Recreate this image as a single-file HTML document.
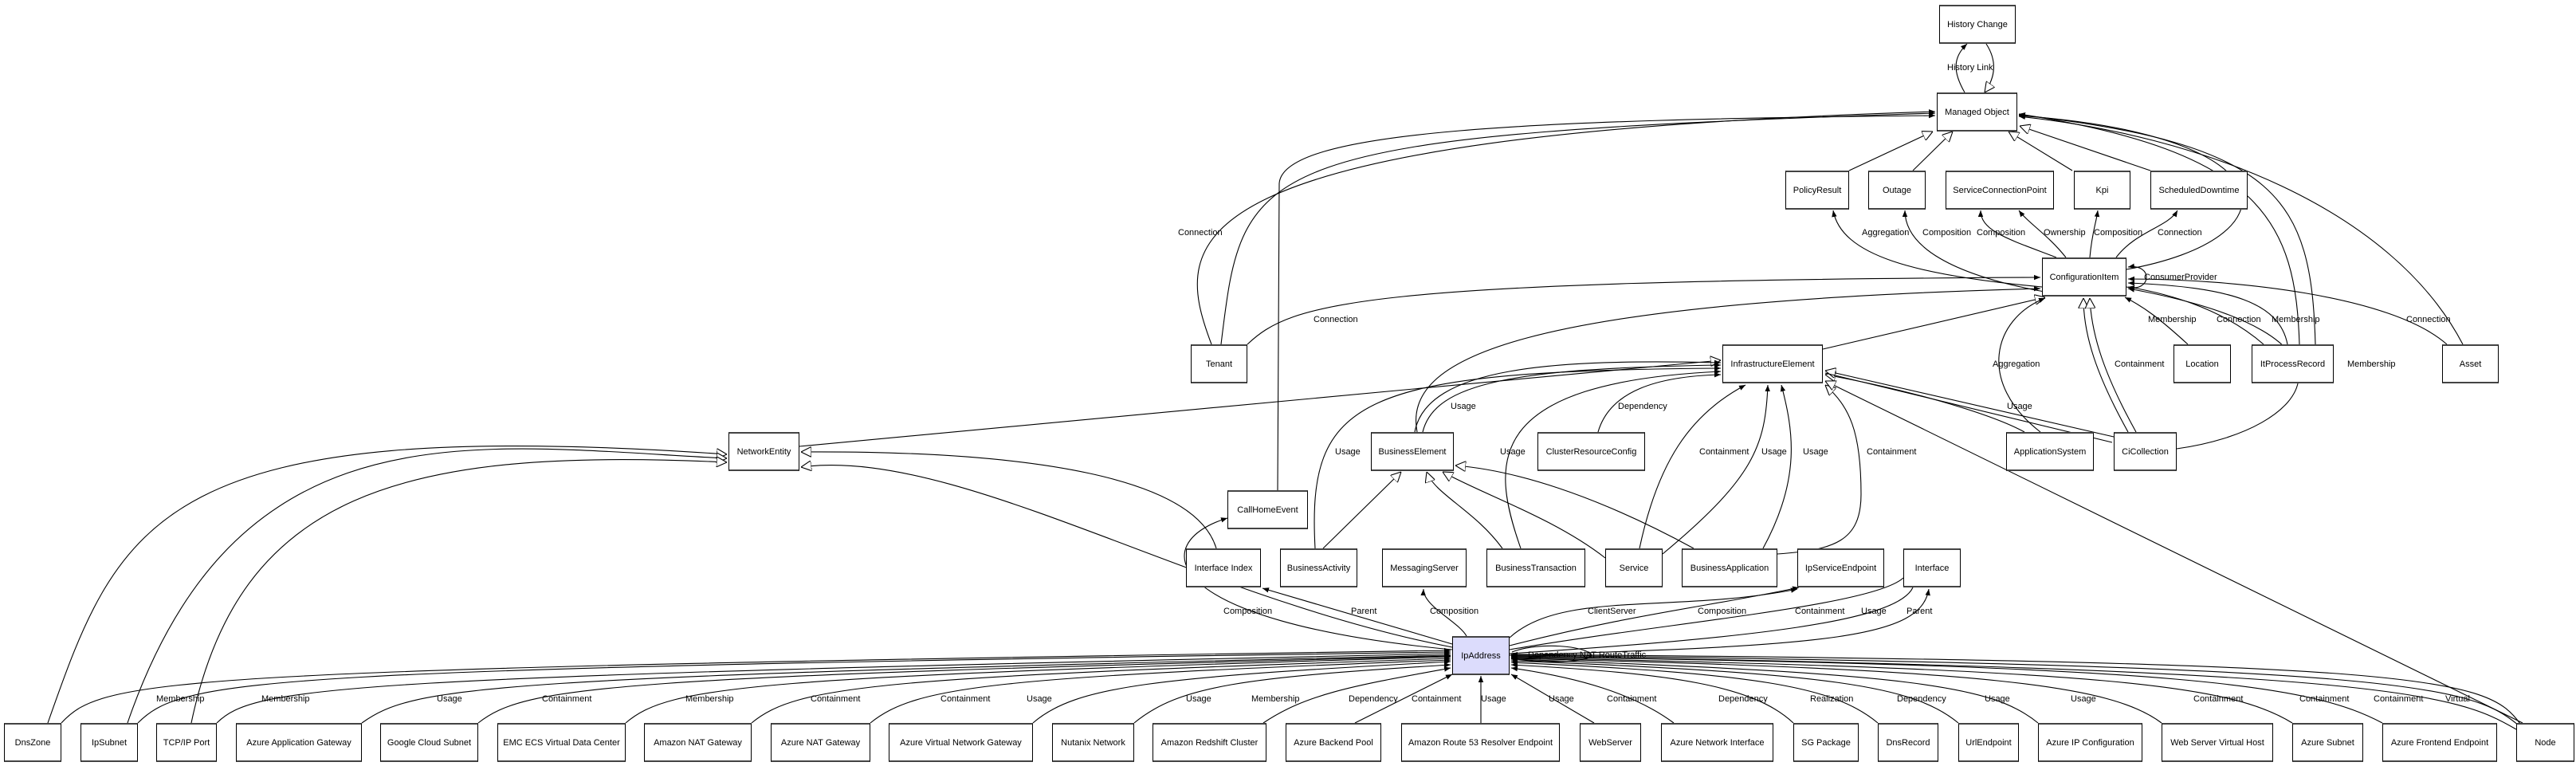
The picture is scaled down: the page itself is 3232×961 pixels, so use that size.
<!DOCTYPE html>
<html><head><meta charset="utf-8"><style>
html,body{margin:0;padding:0;background:#fff;}
body{width:3232px;height:961px;position:relative;overflow:hidden;font-family:"Liberation Sans",sans-serif;}
.n{position:absolute;box-sizing:border-box;border:1px solid #000;border-top:2px solid #444;border-bottom:2px solid #444;background:#fff;font-size:11px;display:flex;align-items:center;justify-content:center;text-align:center;white-space:nowrap;height:49px;}
svg{position:absolute;left:0;top:0;}
svg text{font-family:"Liberation Sans",sans-serif;font-size:11px;fill:#000;}
</style></head><body>
<svg width="3232" height="961" viewBox="0 0 3232 961">
<defs>
<marker id="f" viewBox="0 0 10 10" refX="10" refY="5" markerWidth="8" markerHeight="8" orient="auto" markerUnits="userSpaceOnUse"><path d="M0,1 L10,5 L0,9 z" fill="#000"/></marker>
<marker id="h" viewBox="0 0 12 12" refX="12" refY="6" markerWidth="13" markerHeight="13" orient="auto" markerUnits="userSpaceOnUse"><path d="M0,0 L12,6 L0,12 z" fill="#fff" stroke="#000" stroke-width="1"/></marker>
</defs>
<g fill="none" stroke="#000" stroke-width="1.1">
<path d="M2465,116 C2450,90 2450,72 2468,55" marker-end="url(#f)"/>
<path d="M2492,55 C2505,75 2505,95 2490,116" marker-end="url(#h)"/>
<path d="M2320,214 L2425,165" marker-end="url(#h)"/>
<path d="M2400,214 L2450,165" marker-end="url(#h)"/>
<path d="M2600,214 L2520,165" marker-end="url(#h)"/>
<path d="M2698,214 L2534,158" marker-end="url(#h)"/>
<path d="M2668,338 C2880,300 2880,170 2533,145" marker-end="url(#f)"/>
<path d="M2905,432 C2900,250 2860,180 2533,144" marker-end="url(#f)"/>
<path d="M2885,432 C2880,280 2840,190 2533,143" marker-end="url(#f)"/>
<path d="M3090,432 C3000,260 2760,170 2533,146" marker-end="url(#f)"/>
<path d="M1520,432 C1470,300 1460,170 2428,140" marker-end="url(#f)"/>
<path d="M1532,432 C1560,200 1560,170 2428,142" marker-end="url(#f)"/>
<path d="M1603,615 L1605,230 C1610,165 1900,150 2428,145" marker-end="url(#f)"/>
<path d="M2562,360 C2400,345 2310,320 2300,264" marker-end="url(#f)"/>
<path d="M2565,366 C2450,345 2390,310 2390,264" marker-end="url(#f)"/>
<path d="M2580,323 C2520,300 2485,290 2485,264" marker-end="url(#f)"/>
<path d="M2592,323 C2570,295 2545,280 2533,264" marker-end="url(#f)"/>
<path d="M2622,323 C2625,290 2630,280 2632,264" marker-end="url(#f)"/>
<path d="M2655,323 C2680,290 2720,285 2732,264" marker-end="url(#f)"/>
<path d="M2668,360 C2700,368 2702,330 2670,335" marker-end="url(#f)"/>
<path d="M1565,432 C1620,380 1700,352 2560,348" marker-end="url(#f)"/>
<path d="M2287,438 L2566,373" marker-end="url(#h)"/>
<path d="M1778,542 C1760,450 1900,380 2560,362" marker-end="url(#f)"/>
<path d="M2560,542 C2480,480 2500,400 2566,374" marker-end="url(#f)"/>
<path d="M2670,542 C2630,470 2614,420 2614,374" marker-end="url(#h)"/>
<path d="M2680,542 C2640,470 2624,420 2622,374" marker-end="url(#h)"/>
<path d="M2731,563 C2900,540 2990,420 2670,362" marker-end="url(#f)"/>
<path d="M2745,432 C2710,400 2690,385 2666,373" marker-end="url(#f)"/>
<path d="M2840,432 C2780,380 2700,365 2670,360" marker-end="url(#f)"/>
<path d="M2870,432 C2860,380 2800,360 2670,355" marker-end="url(#f)"/>
<path d="M3070,432 C3000,370 2800,350 2670,350" marker-end="url(#f)"/>
<path d="M1003,560 L2159,452" marker-end="url(#h)"/>
<path d="M1785,542 C1800,480 1900,462 2159,458" marker-end="url(#f)"/>
<path d="M1775,542 C1790,460 1950,450 2159,455" marker-end="url(#f)"/>
<path d="M1650,688 C1640,500 1700,465 2159,462" marker-end="url(#f)"/>
<path d="M1908,688 C1870,580 1860,480 2159,466" marker-end="url(#f)"/>
<path d="M2005,542 C2020,490 2080,472 2159,470" marker-end="url(#f)"/>
<path d="M2057,688 C2080,580 2120,520 2190,483" marker-end="url(#f)"/>
<path d="M2086,695 C2200,600 2215,560 2218,483" marker-end="url(#f)"/>
<path d="M2212,688 C2260,600 2250,540 2235,483" marker-end="url(#f)"/>
<path d="M2230,695 C2300,690 2335,680 2335,620 C2335,540 2320,510 2290,483" marker-end="url(#h)"/>
<path d="M2540,542 C2500,520 2400,490 2290,470" marker-end="url(#h)"/>
<path d="M2652,548 L2290,465" marker-end="url(#h)"/>
<path d="M2650,555 L2290,468" />
<path d="M3165,907 L2290,478" marker-end="url(#h)"/>
<path d="M1660,688 L1758,592" marker-end="url(#h)"/>
<path d="M1885,688 C1850,640 1800,620 1790,592" marker-end="url(#h)"/>
<path d="M2014,700 C1950,650 1860,620 1810,592" marker-end="url(#h)"/>
<path d="M2125,688 C2000,620 1900,590 1826,584" marker-end="url(#h)"/>
<path d="M60,907 C150,650 200,520 912,570" marker-end="url(#h)"/>
<path d="M160,907 C300,500 600,560 912,575" marker-end="url(#h)"/>
<path d="M240,907 C300,620 500,560 912,580" marker-end="url(#h)"/>
<path d="M1822,812 C1500,750 1200,560 1005,586" marker-end="url(#h)"/>
<path d="M1526,688 C1500,600 1300,565 1005,567" marker-end="url(#h)"/>
<path d="M1822,815 C1450,780 1440,680 1540,650" marker-end="url(#f)"/>
<path d="M1822,808 L1584,738" marker-end="url(#f)"/>
<path d="M1840,798 C1830,780 1785,760 1786,739" marker-end="url(#f)"/>
<path d="M1894,800 C1960,740 2100,770 2255,739" marker-end="url(#f)"/>
<path d="M1894,810 C2050,770 2150,760 2257,737" marker-end="url(#f)"/>
<path d="M1894,815 C2100,780 2350,760 2388,725"/>
<path d="M1894,820 C2200,800 2380,780 2400,737"/>
<path d="M1894,822 C2300,810 2410,800 2420,739" marker-end="url(#f)"/>
<path d="M1897,818 C1930,805 1990,810 1997,822 C1990,832 1930,832 1897,826"/>
<path d="M77,907 C130,850 200,840 1820,816" marker-end="url(#f)"/>
<path d="M173,907 C230,850 320,840 1820,818" marker-end="url(#f)"/>
<path d="M272,907 C320,860 420,850 1820,820" marker-end="url(#f)"/>
<path d="M454,907 C520,860 600,850 1820,822" marker-end="url(#f)"/>
<path d="M600,907 C660,860 760,850 1820,823" marker-end="url(#f)"/>
<path d="M785,907 C840,860 940,850 1820,824" marker-end="url(#f)"/>
<path d="M943,907 C1000,860 1100,850 1820,826" marker-end="url(#f)"/>
<path d="M1092,907 C1150,860 1250,850 1820,828" marker-end="url(#f)"/>
<path d="M1296,907 C1350,860 1450,850 1820,830" marker-end="url(#f)"/>
<path d="M1423,907 C1480,860 1560,850 1820,834" marker-end="url(#f)"/>
<path d="M1585,907 C1640,870 1700,860 1820,838" marker-end="url(#f)"/>
<path d="M1700,907 L1822,846" marker-end="url(#f)"/>
<path d="M1858,907 L1858,848" marker-end="url(#f)"/>
<path d="M2000,907 L1896,846" marker-end="url(#f)"/>
<path d="M2100,907 C2050,870 1980,850 1896,838" marker-end="url(#f)"/>
<path d="M2250,907 C2200,860 2100,845 1896,834" marker-end="url(#f)"/>
<path d="M2356,907 C2300,860 2200,845 1896,831" marker-end="url(#f)"/>
<path d="M2457,907 C2400,860 2300,845 1896,829" marker-end="url(#f)"/>
<path d="M2557,907 C2500,860 2400,845 1896,827" marker-end="url(#f)"/>
<path d="M2712,907 C2650,860 2500,840 1896,826" marker-end="url(#f)"/>
<path d="M2876,907 C2800,860 2650,840 1896,825" marker-end="url(#f)"/>
<path d="M2989,907 C2900,860 2750,835 1896,824" marker-end="url(#f)"/>
<path d="M3157,915 C3080,870 3000,840 1896,823" marker-end="url(#f)"/>
<path d="M3160,910 C3100,860 3020,835 1896,822" marker-end="url(#f)"/>
<path d="M3162,908 C3120,850 3050,830 1896,821" marker-end="url(#f)"/>
</g>
<g>
<text x="2443" y="88">History Link</text>
<text x="1478" y="295">Connection</text>
<text x="1648" y="404">Connection</text>
<text x="2336" y="295">Aggregation</text>
<text x="2412" y="295">Composition</text>
<text x="2480" y="295">Composition</text>
<text x="2564" y="295">Ownership</text>
<text x="2627" y="295">Composition</text>
<text x="2707" y="295">Connection</text>
<text x="2690" y="351">ConsumerProvider</text>
<text x="2695" y="404">Membership</text>
<text x="2781" y="404">Connection</text>
<text x="2850" y="404">Membership</text>
<text x="3019" y="404">Connection</text>
<text x="2500" y="460">Aggregation</text>
<text x="2653" y="460">Containment</text>
<text x="2945" y="460">Membership</text>
<text x="1820" y="513">Usage</text>
<text x="2030" y="513">Dependency</text>
<text x="2518" y="513">Usage</text>
<text x="1675" y="570">Usage</text>
<text x="1882" y="570">Usage</text>
<text x="2132" y="570">Containment</text>
<text x="2210" y="570">Usage</text>
<text x="2262" y="570">Usage</text>
<text x="2342" y="570">Containment</text>
<text x="1535" y="770">Composition</text>
<text x="1695" y="770">Parent</text>
<text x="1794" y="770">Composition</text>
<text x="1992" y="770">ClientServer</text>
<text x="2130" y="770">Composition</text>
<text x="2252" y="770">Containment</text>
<text x="2335" y="770">Usage</text>
<text x="2392" y="770">Parent</text>
<text x="1917" y="825" font-size="10">Dependency NAT RouteTraffic</text>
<text x="196" y="880">Membership</text>
<text x="328" y="880">Membership</text>
<text x="548" y="880">Usage</text>
<text x="680" y="880">Containment</text>
<text x="860" y="880">Membership</text>
<text x="1017" y="880">Containment</text>
<text x="1180" y="880">Containment</text>
<text x="1288" y="880">Usage</text>
<text x="1488" y="880">Usage</text>
<text x="1570" y="880">Membership</text>
<text x="1692" y="880">Dependency</text>
<text x="1771" y="880">Containment</text>
<text x="1858" y="880">Usage</text>
<text x="1943" y="880">Usage</text>
<text x="2016" y="880">Containment</text>
<text x="2156" y="880">Dependency</text>
<text x="2271" y="880">Realization</text>
<text x="2380" y="880">Dependency</text>
<text x="2490" y="880">Usage</text>
<text x="2598" y="880">Usage</text>
<text x="2752" y="880">Containment</text>
<text x="2885" y="880">Containment</text>
<text x="2978" y="880">Containment</text>
<text x="3068" y="880">Virtual</text>
</g>
</svg>
<div class="n" style="left:2433px;top:6px;width:96px">History Change</div>
<div class="n" style="left:2430px;top:116px;width:101px">Managed Object</div>
<div class="n" style="left:2240px;top:214px;width:80px">PolicyResult</div>
<div class="n" style="left:2344px;top:214px;width:72px">Outage</div>
<div class="n" style="left:2441px;top:214px;width:136px">ServiceConnectionPoint</div>
<div class="n" style="left:2602px;top:214px;width:71px">Kpi</div>
<div class="n" style="left:2698px;top:214px;width:122px">ScheduledDowntime</div>
<div class="n" style="left:2562px;top:323px;width:106px">ConfigurationItem</div>
<div class="n" style="left:1494px;top:432px;width:71px">Tenant</div>
<div class="n" style="left:2161px;top:432px;width:126px">InfrastructureElement</div>
<div class="n" style="left:2727px;top:432px;width:72px">Location</div>
<div class="n" style="left:2825px;top:432px;width:103px">ItProcessRecord</div>
<div class="n" style="left:3064px;top:432px;width:71px">Asset</div>
<div class="n" style="left:914px;top:542px;width:89px">NetworkEntity</div>
<div class="n" style="left:1720px;top:542px;width:104px">BusinessElement</div>
<div class="n" style="left:1929px;top:542px;width:135px">ClusterResourceConfig</div>
<div class="n" style="left:2517px;top:542px;width:110px">ApplicationSystem</div>
<div class="n" style="left:2652px;top:542px;width:79px">CiCollection</div>
<div class="n" style="left:1540px;top:615px;width:101px">CallHomeEvent</div>
<div class="n" style="left:1488px;top:688px;width:94px">Interface Index</div>
<div class="n" style="left:1606px;top:688px;width:97px">BusinessActivity</div>
<div class="n" style="left:1734px;top:688px;width:106px">MessagingServer</div>
<div class="n" style="left:1865px;top:688px;width:124px">BusinessTransaction</div>
<div class="n" style="left:2014px;top:688px;width:72px">Service</div>
<div class="n" style="left:2110px;top:688px;width:120px">BusinessApplication</div>
<div class="n" style="left:2255px;top:688px;width:109px">IpServiceEndpoint</div>
<div class="n" style="left:2388px;top:688px;width:72px">Interface</div>
<div class="n" style="left:1822px;top:798px;width:72px;background:#dcdcfc">IpAddress</div>
<div class="n" style="left:5px;top:907px;width:72px">DnsZone</div>
<div class="n" style="left:101px;top:907px;width:72px">IpSubnet</div>
<div class="n" style="left:196px;top:907px;width:76px">TCP/IP Port</div>
<div class="n" style="left:296px;top:907px;width:158px">Azure Application Gateway</div>
<div class="n" style="left:477px;top:907px;width:123px">Google Cloud Subnet</div>
<div class="n" style="left:624px;top:907px;width:161px">EMC ECS Virtual Data Center</div>
<div class="n" style="left:808px;top:907px;width:135px">Amazon NAT Gateway</div>
<div class="n" style="left:967px;top:907px;width:125px">Azure NAT Gateway</div>
<div class="n" style="left:1115px;top:907px;width:181px">Azure Virtual Network Gateway</div>
<div class="n" style="left:1320px;top:907px;width:103px">Nutanix Network</div>
<div class="n" style="left:1446px;top:907px;width:143px">Amazon Redshift Cluster</div>
<div class="n" style="left:1613px;top:907px;width:120px">Azure Backend Pool</div>
<div class="n" style="left:1758px;top:907px;width:199px">Amazon Route 53 Resolver Endpoint</div>
<div class="n" style="left:1982px;top:907px;width:77px">WebServer</div>
<div class="n" style="left:2084px;top:907px;width:141px">Azure Network Interface</div>
<div class="n" style="left:2250px;top:907px;width:82px">SG Package</div>
<div class="n" style="left:2356px;top:907px;width:76px">DnsRecord</div>
<div class="n" style="left:2457px;top:907px;width:76px">UrlEndpoint</div>
<div class="n" style="left:2557px;top:907px;width:131px">Azure IP Configuration</div>
<div class="n" style="left:2712px;top:907px;width:140px">Web Server Virtual Host</div>
<div class="n" style="left:2876px;top:907px;width:89px">Azure Subnet</div>
<div class="n" style="left:2989px;top:907px;width:144px">Azure Frontend Endpoint</div>
<div class="n" style="left:3157px;top:907px;width:73px">Node</div>
</body></html>
